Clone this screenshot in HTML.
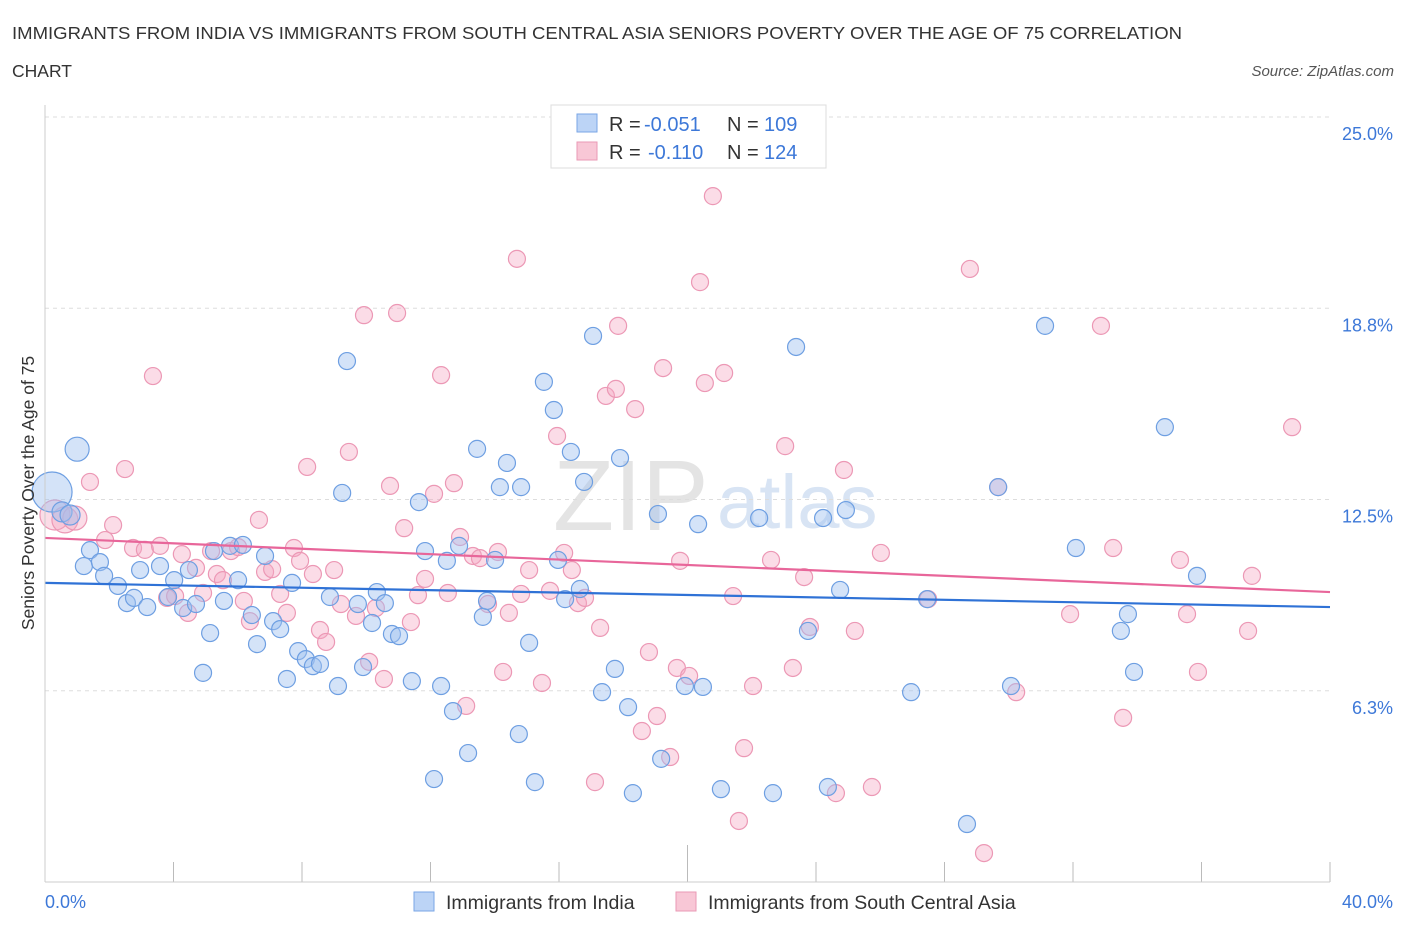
<!DOCTYPE html>
<html><head><meta charset="utf-8">
<style>
body{margin:0;background:#fff;font-family:"Liberation Sans",sans-serif;}
svg text{font-family:"Liberation Sans",sans-serif;}
</style></head>
<body>
<svg id="chart" width="1406" height="930" xmlns="http://www.w3.org/2000/svg">
<text x="12" y="39" font-size="17.5" fill="#333" textLength="1170" lengthAdjust="spacingAndGlyphs">IMMIGRANTS FROM INDIA VS IMMIGRANTS FROM SOUTH CENTRAL ASIA SENIORS POVERTY OVER THE AGE OF 75 CORRELATION</text>
<text x="12" y="77" font-size="17.5" fill="#333">CHART</text>
<text x="1394" y="76" font-size="15" fill="#555" font-style="italic" text-anchor="end">Source: ZipAtlas.com</text>
<text x="553" y="530" font-size="100" fill="#e4e4e4" font-family="Liberation Serif">ZIP</text>
<text x="717" y="528" font-size="76" fill="#d8e4f4">atlas</text>
<g id="grid"></g>
<g id="pts"></g>
<g id="trend"></g>
<line x1="45" y1="105" x2="45" y2="882" stroke="#ccc"/>
<line x1="45" y1="882" x2="1330" y2="882" stroke="#ccc"/>
<text transform="translate(34,493) rotate(-90)" font-size="17.5" fill="#333" text-anchor="middle">Seniors Poverty Over the Age of 75</text>
<text x="45" y="908" font-size="18" fill="#3d78d8">0.0%</text>
<text x="1393" y="908" font-size="18" fill="#3d78d8" text-anchor="end">40.0%</text>
<g>
<rect x="551" y="105" width="275" height="63" fill="#fff" stroke="#ddd"/>
<rect x="577" y="114" width="20" height="18" fill="#bcd4f6" stroke="#7aa6e6"/>
<rect x="577" y="142" width="20" height="18" fill="#f8c7d6" stroke="#ea9ab5"/>
<text x="609" y="131" font-size="20" fill="#333">R =</text>
<text x="644" y="131" font-size="20" fill="#3d78d8">-0.051</text>
<text x="727" y="131" font-size="20" fill="#333">N =</text>
<text x="764" y="131" font-size="20" fill="#3d78d8">109</text>
<text x="609" y="159" font-size="20" fill="#333">R =</text>
<text x="648" y="159" font-size="20" fill="#3d78d8">-0.110</text>
<text x="727" y="159" font-size="20" fill="#333">N =</text>
<text x="764" y="159" font-size="20" fill="#3d78d8">124</text>
</g>
<g>
<rect x="414" y="892" width="20" height="19" fill="#bcd4f6" stroke="#7aa6e6"/>
<text x="446" y="909" font-size="19.5" fill="#333">Immigrants from India</text>
<rect x="676" y="892" width="20" height="19" fill="#f8c7d6" stroke="#ea9ab5"/>
<text x="708" y="909" font-size="19.5" fill="#333">Immigrants from South Central Asia</text>
</g>
</svg>
<script>
const yTicks=[6.25,12.5,18.75,25];
const yTickLabels=["6.3%","12.5%","18.8%","25.0%"];
const xTicks=[0,4,8,12,16,20,24,28,32,36,40];
const indiaX=[0.22,1.0,0.53,0.78,1.4,1.21,1.71,1.84,2.27,2.55,2.77,2.96,3.18,3.58,3.83,4.02,4.3,4.48,4.7,4.92,5.14,5.26,5.57,5.76,6.01,6.16,6.44,6.6,6.85,7.1,7.32,7.53,7.69,7.88,8.12,8.34,8.56,8.87,9.12,9.25,9.4,9.74,9.9,10.18,10.33,10.58,10.8,11.02,11.42,11.64,11.83,12.11,12.33,12.51,12.7,12.89,13.17,13.45,13.63,13.76,14.01,14.16,14.38,14.75,14.82,15.07,15.25,15.53,15.84,15.97,16.19,16.37,16.65,16.78,17.06,17.34,17.74,17.9,18.15,18.3,19.08,19.18,19.92,20.33,20.48,21.04,22.23,22.66,23.38,23.75,24.22,24.37,24.75,24.93,26.96,27.46,28.7,29.67,30.07,31.13,32.09,33.49,33.71,33.9,34.86,35.86];
const indiaY=[13.3,14.7,12.65,12.55,11.4,10.88,11.01,10.56,10.23,9.67,9.84,10.75,9.54,10.88,9.87,10.42,9.51,10.75,9.64,7.39,8.69,11.37,9.74,11.54,10.42,11.57,9.28,8.33,11.21,9.08,8.82,7.19,10.33,8.1,7.84,7.61,7.68,9.87,6.96,13.27,17.58,9.64,7.58,9.02,10.03,9.67,8.66,8.59,7.12,12.97,11.37,3.92,6.96,11.05,6.14,11.54,4.77,14.71,9.22,9.74,11.08,13.46,14.25,5.39,13.46,8.37,3.82,16.9,15.98,11.08,9.8,14.61,10.13,13.63,18.4,6.76,7.52,14.41,6.27,3.46,12.58,4.58,6.96,12.25,6.93,3.59,12.45,3.46,18.04,8.76,12.45,3.66,10.1,12.71,6.76,9.8,2.45,13.46,6.96,18.73,11.47,8.76,9.31,7.42,15.42,10.56];
const indiaSize=[20,12,10,10];
const scaX=[0.31,0.62,0.93,1.4,1.87,2.12,2.49,2.74,3.11,3.36,3.58,3.8,4.05,4.26,4.45,4.7,4.92,5.17,5.35,5.54,5.79,6.01,6.19,6.38,6.66,6.85,7.07,7.32,7.53,7.75,7.94,8.16,8.34,8.56,8.75,9.0,9.21,9.46,9.68,9.93,10.09,10.3,10.55,10.74,10.96,11.18,11.39,11.61,11.83,12.11,12.33,12.54,12.73,12.92,13.11,13.32,13.54,13.79,14.1,14.26,14.44,14.69,14.82,15.07,15.47,15.72,15.94,16.16,16.4,16.59,16.81,17.12,17.28,17.46,17.77,17.84,18.37,18.58,18.8,19.05,19.24,19.46,19.67,19.77,20.05,20.39,20.54,20.79,21.14,21.42,21.6,21.76,22.04,22.6,23.04,23.28,23.63,23.81,24.62,24.87,25.21,25.74,26.02,27.49,28.79,29.23,29.67,30.23,31.91,32.87,33.25,33.56,35.33,35.55,35.89,37.45,37.57,38.82];
const scaY=[12.55,12.39,12.45,13.63,11.73,12.22,14.05,11.47,11.41,17.09,11.54,9.84,9.9,11.27,9.35,10.82,10.0,11.37,10.62,10.42,11.37,11.5,9.74,9.08,12.39,10.69,10.78,9.97,9.35,11.47,11.05,14.12,10.62,8.79,8.4,10.75,9.64,14.61,9.25,19.08,7.75,9.51,7.19,13.5,19.15,12.12,9.05,9.93,10.46,13.24,17.12,10.0,13.59,11.83,6.31,11.21,11.14,9.64,11.34,7.42,9.35,20.92,9.97,10.75,7.06,10.07,15.13,11.31,10.75,9.67,9.84,3.82,8.86,16.44,16.67,18.73,16.01,5.49,8.07,5.98,17.35,4.64,7.55,11.05,7.29,20.16,16.86,22.97,17.19,9.9,2.55,4.93,6.96,11.08,14.8,7.55,10.52,8.89,3.46,14.02,8.76,3.66,11.31,9.8,20.59,1.5,13.46,6.76,9.31,18.73,11.47,5.92,11.08,9.31,7.42,8.76,10.56,15.42];
const scaSize=[15,13,12];
const indiaTrend=[10.33,9.54];
const scaTrend=[11.8,10.03];
const NS="http://www.w3.org/2000/svg";
const xS=v=>45+v/40*1285;
const yS=v=>899-v*30.6;
function mk(tag,attrs,parent){const e=document.createElementNS(NS,tag);for(const k in attrs)e.setAttribute(k,attrs[k]);parent.appendChild(e);return e;}
const grid=document.getElementById('grid');
yTicks.forEach((t,i)=>{
 const l=mk('line',{x1:45,x2:1330,y1:yS(t)-17,y2:yS(t)-17,stroke:'#ddd','stroke-dasharray':'4,4'},grid);
 
 
 const tx=mk('text',{x:1393,y:yS(t)+6,'font-size':18,fill:'#3d78d8','text-anchor':'end'},grid);
 tx.textContent=yTickLabels[i];
 
 
});
xTicks.forEach((t,i)=>{
 if(i===0)return;
 const top=(t===20)?845:862;
 const l=mk('line',{x1:xS(t),x2:xS(t),y1:top,y2:882,stroke:'#bbb'},grid);
 
 
});
const pts=document.getElementById('pts');
scaX.forEach((x,i)=>{
 const c=mk('circle',{cx:xS(x),cy:yS(scaY[i]),r:scaSize[i]||8.5,fill:'rgba(246,168,195,0.4)',stroke:'#ec98b5','stroke-width':1.2},pts);
 
 
});
indiaX.forEach((x,i)=>{
 const c=mk('circle',{cx:xS(x),cy:yS(indiaY[i]),r:indiaSize[i]||8.5,fill:'rgba(160,194,240,0.45)',stroke:'#6e9fe2','stroke-width':1.2},pts);
 
 
});
const tr=document.getElementById('trend');
const l1=mk('line',{x1:xS(0),y1:yS(scaTrend[0]),x2:xS(40),y2:yS(scaTrend[1]),stroke:'#e8669a','stroke-width':2.2},tr);


const l2=mk('line',{x1:xS(0),y1:yS(indiaTrend[0]),x2:xS(40),y2:yS(indiaTrend[1]),stroke:'#2f72d6','stroke-width':2.2},tr);


</script>
</body></html>
